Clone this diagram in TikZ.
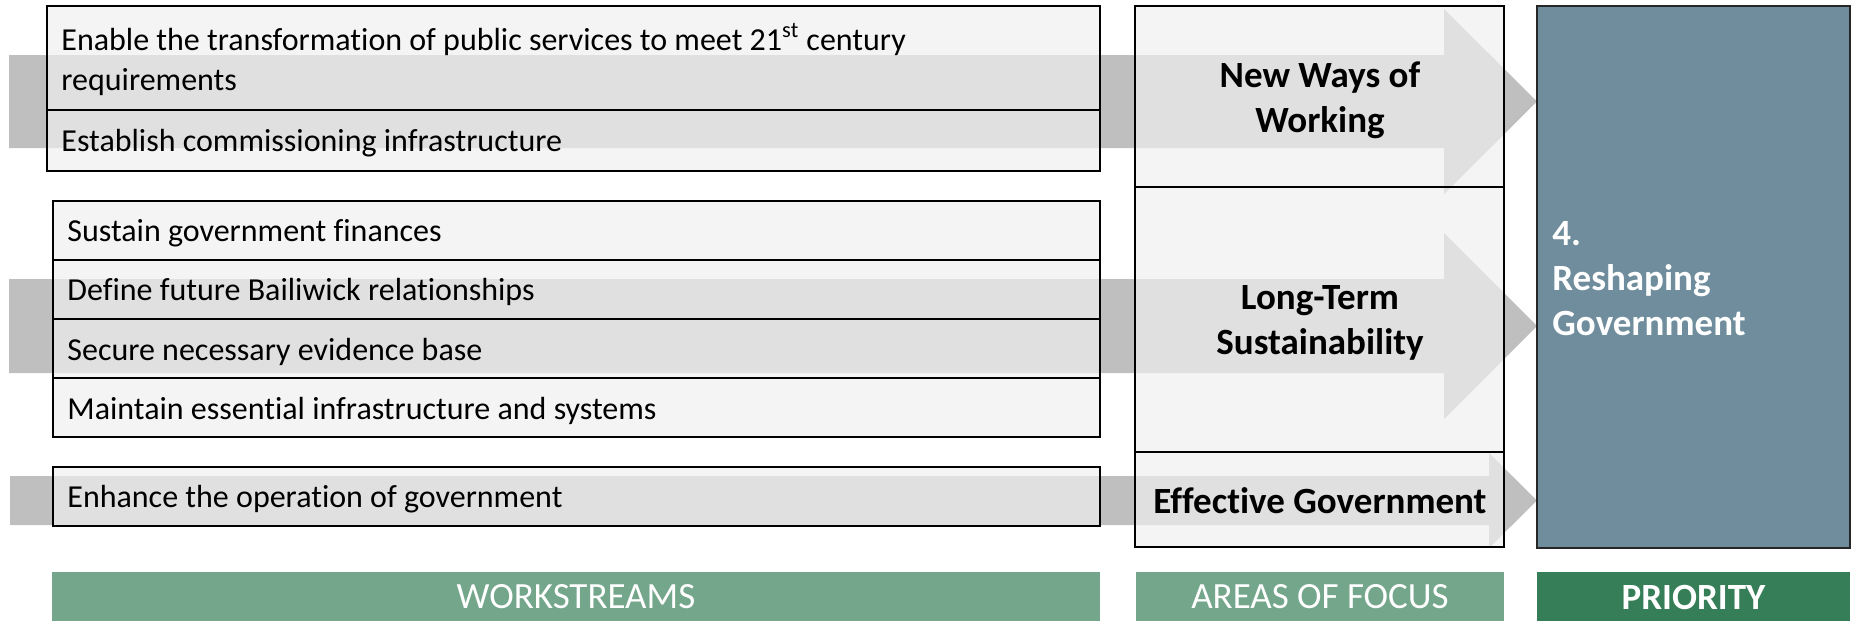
\documentclass[tikz,border=0pt]{standalone}
\usepackage{fontspec}
\setmainfont{Carlito}[Ligatures=NoCommon]
\definecolor{arrowgray}{HTML}{BFBFBF}
\definecolor{cellfill}{HTML}{EFEFEF}
\definecolor{prioblue}{HTML}{6F8D9C}
\definecolor{lightgreen}{HTML}{73A68A}
\definecolor{darkgreen}{HTML}{357E57}
\begin{document}
\begin{tikzpicture}[x=0.5pt,y=-0.5pt,
  cell/.style={fill=cellfill, fill opacity=0.69, draw=black, line width=1.3pt},
  bigarrow/.style={fill=arrowgray},
  wtext/.style={anchor=west, inner sep=0pt, align=left, font=\fontsize{16}{20}\selectfont},
  atext/.style={inner sep=0pt, align=center, font=\fontsize{18.5}{22.5}\selectfont\bfseries},
  ptext/.style={anchor=west, inner sep=0pt, align=left, text=white, font=\fontsize{18.5}{22.5}\selectfont\bfseries},
  labtext/.style={inner sep=0pt, text=white, font=\fontsize{18.5}{22}\selectfont}]
\useasboundingbox (0,0) rectangle (1854,621);
% background arrows
\fill[bigarrow] (9,55) -- (1444,55) -- (1444,9) -- (1537,101.5) -- (1444,194) -- (1444,148) -- (9,148) -- cycle;
\fill[bigarrow] (9,279) -- (1444,279) -- (1444,233) -- (1537,326) -- (1444,419) -- (1444,373) -- (9,373) -- cycle;
\fill[bigarrow] (10,476) -- (1489,476) -- (1489,453) -- (1537,500.5) -- (1489,548) -- (1489,525) -- (10,525) -- cycle;
% workstream boxes
\draw[cell] (47,6) rectangle (1100,110);
\draw[cell] (47,110) rectangle (1100,171);
\draw[cell] (53,201) rectangle (1100,260);
\draw[cell] (53,260) rectangle (1100,319);
\draw[cell] (53,319) rectangle (1100,378);
\draw[cell] (53,378) rectangle (1100,437);
\draw[cell] (53,467) rectangle (1100,526);
% areas of focus
\draw[cell] (1135,6) rectangle (1504,187);
\draw[cell] (1135,187) rectangle (1504,452);
\draw[cell] (1135,452) rectangle (1504,547);
% priority
\draw[fill=prioblue, draw=black!85, line width=1.3pt] (1537,6) rectangle (1850,548);
% bottom labels
\fill[lightgreen] (52,572) rectangle (1100,621);
\fill[lightgreen] (1136,572) rectangle (1504,621);
\fill[darkgreen] (1537,572) rectangle (1850,621);
% texts
\node[wtext] (w1) at (61,59.5) {Enable the transformation of public services to meet 21\textsuperscript{st} century\\requirements};
\node[wtext] (w2) at (61,143.5) {Establish commissioning infrastructure};
\node[wtext] (w3) at (67,233.5) {Sustain government finances};
\node[wtext] (w4) at (67,292) {Define future Bailiwick relationships};
\node[wtext] (w5) at (67,351.5) {Secure necessary evidence base};
\node[wtext] (w6) at (67,411) {Maintain essential infrastructure and systems};
\node[wtext] (w7) at (67,499.5) {Enhance the operation of government};
\node[atext] (a1) at (1320,100.5) {New Ways of\\Working};
\node[atext] (a2) at (1320,323) {Long-Term\\Sustainability};
\node[atext] (a3) at (1320,501) {Effective Government};
\node[ptext] (p1) at (1552,279) {4.\\Reshaping\\Government};
\node[labtext] (l1) at (576,597) {WORKSTREAMS};
\node[labtext] (l2) at (1320,597) {AREAS OF FOCUS};
\node[labtext] (l3) at (1693.5,597) {\bfseries PRIORITY};
\end{tikzpicture}
\end{document}
